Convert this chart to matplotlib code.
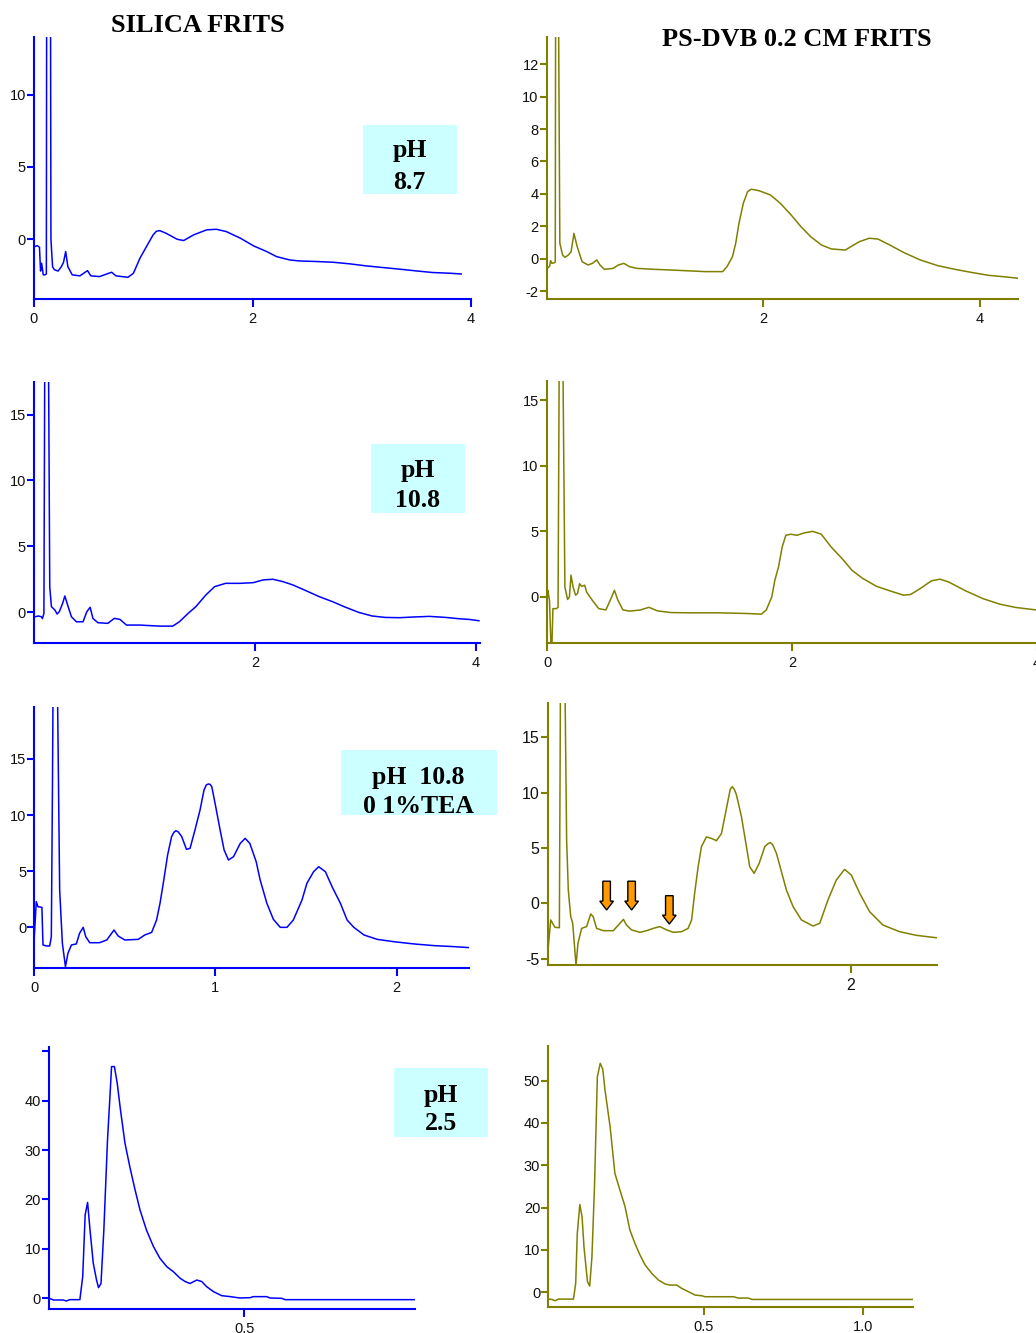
import matplotlib
matplotlib.use('Agg')
import matplotlib.pyplot as plt
from matplotlib.patches import Rectangle, FancyArrow

plt.rcParams['axes.unicode_minus'] = False

# ---- data (time, signal) ----
# silica frits, pH 8.7
t1 = [0.01, 0.03, 0.05, 0.06, 0.07, 0.085, 0.10, 0.113, 0.118, 0.148, 0.155, 0.17, 0.186,
      0.22, 0.25, 0.27, 0.29, 0.31, 0.35, 0.42, 0.49, 0.52, 0.60, 0.71, 0.75, 0.86, 0.91,
      0.97, 1.03, 1.09, 1.12, 1.15, 1.21, 1.31, 1.37, 1.46, 1.58, 1.67, 1.76, 1.89, 2.01, 2.13,
      2.22, 2.34, 2.43, 2.59, 2.74, 2.89, 3.04, 3.2, 3.35, 3.5, 3.65, 3.81, 3.91]
s1 = [-0.5, -0.44, -0.55, -2.2, -1.66, -2.46, -2.46, -2.4, 30, 30, 0.0, -1.9, -2.1,
      -2.2, -1.9, -1.6, -0.85, -1.9, -2.46, -2.53, -2.17, -2.53, -2.58, -2.28, -2.53, -2.63, -2.35,
      -1.31, -0.5, 0.3, 0.55, 0.6, 0.41, 0.0, -0.09, 0.3, 0.65, 0.69, 0.53, 0.07, -0.46, -0.85,
      -1.2, -1.43, -1.5, -1.54, -1.59, -1.7, -1.84, -1.96, -2.07, -2.19, -2.3, -2.35, -2.4]

# PS-DVB frits, pH 8.7
t2 = [0.01, 0.035, 0.045, 0.057, 0.08, 0.088, 0.092, 0.114, 0.13, 0.155, 0.177, 0.21, 0.234,
      0.26, 0.29, 0.335, 0.39, 0.43, 0.47, 0.50, 0.54, 0.62, 0.67, 0.72, 0.77, 0.84, 1.0,
      1.15, 1.34, 1.47, 1.63, 1.67, 1.72, 1.75, 1.78, 1.82, 1.86, 1.89, 1.925, 1.97, 2.07, 2.16,
      2.26, 2.35, 2.44, 2.54, 2.63, 2.76, 2.81, 2.89, 2.98, 3.06, 3.17, 3.30, 3.45, 3.61,
      3.77, 3.93, 4.08, 4.24, 4.35]
s2 = [-0.6, -0.49, -0.12, -0.29, -0.25, -0.2, 20, 20, 0.95, 0.23, 0.08, 0.23, 0.43,
      1.56, 0.74, -0.19, -0.39, -0.29, -0.08, -0.39, -0.66, -0.6, -0.39, -0.29, -0.49, -0.6, -0.66,
      -0.7, -0.76, -0.8, -0.8, -0.49, 0.12, 0.95, 2.18, 3.42, 4.14, 4.28, 4.25, 4.18, 3.93, 3.42,
      2.7, 1.98, 1.36, 0.84, 0.6, 0.53, 0.74, 1.05, 1.26, 1.21, 0.84, 0.37, -0.08, -0.43,
      -0.66, -0.86, -1.03, -1.13, -1.21]

# silica frits, pH 10.8
t3 = [0.0, 0.03, 0.057, 0.066, 0.08, 0.09, 0.118, 0.133, 0.148, 0.18, 0.20, 0.22, 0.25,
      0.27, 0.30, 0.33, 0.375, 0.435, 0.47, 0.50, 0.525, 0.57, 0.66, 0.72, 0.77, 0.83, 0.95,
      1.13, 1.25, 1.31, 1.39, 1.46, 1.55, 1.63, 1.73, 1.86, 1.98, 2.07, 2.16, 2.25, 2.34,
      2.46, 2.58, 2.70, 2.82, 2.94, 3.06, 3.18, 3.31, 3.43, 3.58, 3.73, 3.85, 3.94, 4.03]
s3 = [-0.36, -0.3, -0.36, -0.5, -0.1, 25, 25, 1.93, 0.41, 0.15, -0.15, 0.03, 0.66,
      1.22, 0.41, -0.36, -0.74, -0.74, 0.03, 0.36, -0.48, -0.81, -0.86, -0.48, -0.56, -0.99, -0.99,
      -1.07, -1.07, -0.74, -0.1, 0.41, 1.29, 1.93, 2.18, 2.18, 2.23, 2.44, 2.49, 2.31, 2.06,
      1.62, 1.17, 0.79, 0.36, -0.03, -0.3, -0.41, -0.43, -0.38, -0.33, -0.41, -0.51, -0.56, -0.66]

# PS-DVB frits, pH 10.8
t4 = [0.0, 0.003, 0.017, 0.03, 0.036, 0.045, 0.073, 0.087, 0.1, 0.12, 0.143, 0.165, 0.18,
      0.193, 0.21, 0.23, 0.246, 0.263, 0.28, 0.305, 0.32, 0.366, 0.42, 0.478, 0.52, 0.548,
      0.576, 0.618, 0.674, 0.76, 0.83, 0.9, 1.01, 1.18, 1.40, 1.625, 1.75, 1.79, 1.835, 1.86,
      1.89, 1.92, 1.95, 1.99, 2.04, 2.10, 2.17, 2.24, 2.32, 2.41, 2.49, 2.58, 2.69, 2.80,
      2.91, 2.97, 3.05, 3.14, 3.21, 3.28, 3.42, 3.56, 3.70, 3.83, 3.97, 4.11]
s4 = [0.0, 0.5, -0.25, -4.0, -4.0, -0.9, -0.9, -0.8, 25, 25, 0.76, -0.2, 0.0,
      1.65, 0.76, 0.13, 0.25, 1.0, 0.8, 0.89, 0.38, -0.25, -0.9, -1.0, -0.13, 0.5,
      -0.25, -1.0, -1.09, -1.0, -0.8, -1.07, -1.2, -1.22, -1.22, -1.27, -1.32, -1.0, 0.0, 1.27,
      2.29, 3.81, 4.7, 4.78, 4.7, 4.88, 5.0, 4.78, 3.81, 2.92, 2.03, 1.4, 0.81, 0.46,
      0.13, 0.18, 0.64, 1.22, 1.35, 1.14, 0.46, -0.13, -0.56, -0.81, -0.97, -1.08]

# silica frits, pH 10.8 + 0.1% TEA
t5 = [0.0, 0.011, 0.02, 0.042, 0.048, 0.066, 0.085, 0.094, 0.10, 0.107, 0.122, 0.14, 0.155,
      0.172, 0.186, 0.205, 0.232, 0.25, 0.27, 0.284, 0.306, 0.36, 0.40, 0.44, 0.463, 0.5,
      0.574, 0.61, 0.648, 0.675, 0.694, 0.712, 0.736, 0.758, 0.77, 0.782, 0.795, 0.814, 0.84,
      0.86, 0.887, 0.915, 0.937, 0.95, 0.961, 0.97, 0.98, 0.998, 1.026, 1.048, 1.072, 1.1,
      1.137, 1.164, 1.19, 1.225, 1.247, 1.284, 1.32, 1.358, 1.395, 1.43, 1.478, 1.505, 1.542,
      1.57, 1.607, 1.644, 1.69, 1.727, 1.764, 1.82, 1.893, 1.985, 2.096, 2.207, 2.317, 2.404]
s5 = [-0.83, 2.29, 1.84, 1.78, -1.57, -1.66, -1.66, -0.83, 12.0, 30, 30, 3.33, -1.43,
      -3.5, -2.3, -1.57, -1.48, -0.53, 0.0, -0.83, -1.37, -1.37, -1.13, -0.24, -0.77, -1.13,
      -1.07, -0.68, -0.45, 0.65, 2.14, 3.92, 6.44, 8.08, 8.45, 8.61, 8.5, 8.08, 6.95,
      7.04, 8.67, 10.45, 12.24, 12.7, 12.77, 12.75, 12.53, 11.05, 8.67, 6.89, 6.0, 6.3,
      7.48, 7.93, 7.48, 5.85, 4.22, 2.14, 0.71, 0.0, 0.0, 0.65, 2.44, 3.92, 4.96,
      5.4, 4.96, 3.62, 2.14, 0.65, 0.0, -0.68, -1.07, -1.28, -1.48, -1.63, -1.72, -1.81]

# PS-DVB frits, pH 10.8 + 0.1% TEA
t6 = [0.004, 0.02, 0.048, 0.077, 0.086, 0.11, 0.125, 0.136, 0.152, 0.165, 0.187, 0.20,
      0.224, 0.257, 0.284, 0.30, 0.323, 0.367, 0.433, 0.477, 0.5, 0.52, 0.554, 0.609, 0.653,
      0.697, 0.74, 0.785, 0.83, 0.884, 0.927, 0.95, 0.97, 0.993, 1.015, 1.048, 1.08, 1.114,
      1.147, 1.18, 1.205, 1.218, 1.232, 1.246, 1.279, 1.312, 1.334, 1.363, 1.396, 1.433,
      1.455, 1.47, 1.485, 1.51, 1.543, 1.576, 1.62, 1.675, 1.752, 1.796, 1.85, 1.905, 1.96,
      2.004, 2.06, 2.125, 2.213, 2.323, 2.433, 2.543, 2.6]
s6 = [-3.9, -1.5, -2.17, -2.2, 25, 25, 5.7, 1.2, -1.2, -1.8, -5.6, -3.6,
      -2.26, -2.1, -0.96, -1.2, -2.26, -2.47, -2.47, -1.8, -1.45, -1.96, -2.4, -2.62, -2.47,
      -2.26, -2.1, -2.4, -2.62, -2.56, -2.26, -1.5, 0.9, 3.3, 5.12, 6.0, 5.87, 5.66,
      6.3, 8.58, 10.3, 10.54, 10.3, 9.8, 7.83, 5.12, 3.3, 2.71, 3.61, 5.12,
      5.4, 5.48, 5.3, 4.52, 2.86, 1.2, -0.3, -1.5, -2.05, -1.8, 0.3, 2.1, 3.07,
      2.56, 0.9, -0.75, -1.96, -2.56, -2.89, -3.07, -3.16]
arrow_x = [0.389, 0.554, 0.803]
arrow_top = [2.0, 2.0, 0.69]
arrow_tip = [-0.6, -0.6, -1.87]

# silica frits, pH 2.5
t7 = [0.02, 0.03, 0.054, 0.062, 0.07, 0.095, 0.102, 0.108, 0.114, 0.12, 0.128, 0.136, 0.141,
      0.147, 0.154, 0.163, 0.169, 0.173, 0.18, 0.187, 0.195, 0.206, 0.218, 0.231, 0.243,
      0.259, 0.276, 0.292, 0.309, 0.325, 0.342, 0.354, 0.366, 0.383, 0.395, 0.407, 0.424,
      0.444, 0.465, 0.489, 0.514, 0.522, 0.555, 0.563, 0.592, 0.6, 0.72, 0.92]
s7 = [0.0, -0.34, -0.34, -0.54, -0.27, -0.27, 4.4, 16.9, 19.4, 13.8, 7.1, 3.7, 2.16,
      3.0, 13.8, 32.0, 40.8, 46.9, 46.9, 43.5, 38.1, 31.4, 26.6, 21.9, 17.9,
      13.8, 10.5, 8.1, 6.4, 5.4, 4.05, 3.4, 3.0, 3.7, 3.4, 2.36, 1.35,
      0.54, 0.34, 0.07, 0.13, 0.34, 0.34, 0.07, 0.0, -0.27, -0.27, -0.27]

# PS-DVB frits, pH 2.5
t8 = [0.011, 0.022, 0.032, 0.043, 0.09, 0.097, 0.102, 0.11, 0.117, 0.123, 0.134, 0.141,
      0.148, 0.156, 0.165, 0.174, 0.182, 0.189, 0.205, 0.22, 0.236, 0.252, 0.267, 0.283,
      0.299, 0.315, 0.336, 0.357, 0.378, 0.393, 0.414, 0.43, 0.451, 0.472, 0.493, 0.503,
      0.592, 0.608, 0.639, 0.65, 1.157]
s8 = [-1.66, -1.74, -2.05, -1.66, -1.66, 2.05, 13.9, 20.7, 17.8, 10.7, 2.44, 1.42,
      8.36, 24.9, 50.9, 54.1, 52.7, 47.8, 39.1, 28.1, 24.1, 20.2, 14.7, 11.5,
      8.75, 6.4, 4.4, 2.84, 1.9, 1.66, 1.66, 0.87, 0.08, -0.71, -0.87, -1.1,
      -1.1, -1.42, -1.42, -1.74, -1.74]

W, H = 1036, 1333
BLUE = '#0000ff'
OLIVE = '#808000'
SERIF = 'Liberation Serif'
SANS = 'Liberation Sans'

fig = plt.figure(figsize=(W / 100, H / 100), dpi=100)


def panel(box, color, xlim, ylim, xticks, xlabels, yticks, ylabels, fs=10.5):
    left, top, right, bottom = box
    ax = fig.add_axes([left / W, 1 - bottom / H, (right - left) / W, (bottom - top) / H])
    ax.patch.set_visible(False)
    ax.set_xlim(xlim)
    ax.set_ylim(ylim)
    for s in ['top', 'right']:
        ax.spines[s].set_visible(False)
    for s in ['left', 'bottom']:
        ax.spines[s].set_color(color)
        ax.spines[s].set_linewidth(1.5)
    ax.set_xticks(xticks)
    ax.set_xticklabels(xlabels, fontfamily=SANS)
    ax.set_yticks(yticks)
    ax.set_yticklabels(ylabels, fontfamily=SANS)
    ax.tick_params(axis='y', direction='out', length=5, width=1.5, color=color,
                   pad=0.8, labelsize=fs, labelcolor='#111111')
    ax.tick_params(axis='x', direction='out', length=6, width=1.5, color=color,
                   pad=3.5, labelsize=fs, labelcolor='#111111')
    return ax


def label_box(box, lines, baselines, cx):
    left, top, right, bottom = box
    fig.patches.append(Rectangle((left / W, 1 - bottom / H), (right - left) / W, (bottom - top) / H,
                                 transform=fig.transFigure, fc='#ccffff', ec='none', zorder=0))
    for txt, yb in zip(lines, baselines):
        fig.text(cx / W, 1 - yb / H, txt, ha='center', va='baseline', fontsize=18.5,
                 fontweight='bold', family=SERIF)


# row 1
ax = panel((34, 37.3, 471, 299), BLUE, (0, 4.0), (-4.13, 13.96),
           [0, 2, 4], ['0', '2', '4'], [0, 5, 10], ['0', '5', '10'])
ax.plot(t1, s1, color=BLUE, lw=1.1)
ax = panel((546.8, 37.3, 1018, 299), OLIVE, (0.01, 4.35), (-2.49, 13.66),
           [2, 4], ['2', '4'], [-2, 0, 2, 4, 6, 8, 10, 12],
           ['-2', '0', '2', '4', '6', '8', '10', '12'])
ax.plot(t2, s2, color=OLIVE, lw=1.1)

# row 2
ax = panel((34, 381.7, 480, 642.7), BLUE, (-0.01, 4.04), (-2.33, 17.5),
           [2, 4], ['2', '4'], [0, 5, 10, 15], ['0', '5', '10', '15'])
ax.plot(t3, s3, color=BLUE, lw=1.1)
ax = panel((546.8, 380.7, 1050, 642.7), OLIVE, (-0.005, 4.11), (-3.5, 16.5),
           [0, 2, 4], ['0', '2', '4'], [0, 5, 10, 15], ['0', '5', '10', '15'])
ax.plot(t4, s4, color=OLIVE, lw=1.1)

# row 3
ax = panel((34.3, 706.7, 469, 968.3), BLUE, (0, 2.40), (-3.65, 19.66),
           [0, 1, 2], ['0', '1', '2'], [0, 5, 10, 15], ['0', '5', '10', '15'])
ax.plot(t5, s5, color=BLUE, lw=1.1)
ax = panel((547.7, 703.3, 937, 965), OLIVE, (0, 2.57), (-5.57, 18.07),
           [2], ['2'], [-5, 0, 5, 10, 15], ['-5', '0', '5', '10', '15'], fs=11.5)
ax.plot(t6, s6, color=OLIVE, lw=1.1)
for xa, ya, yt in zip(arrow_x, arrow_top, arrow_tip):
    ax.add_patch(FancyArrow(xa, ya, 0, yt - ya, width=0.05, head_width=0.09, head_length=0.8,
                            length_includes_head=True, fc='#ff9900', ec='black', lw=1.0,
                            zorder=5))

# row 4
ax = panel((49, 1047.3, 415, 1308.7), BLUE, (0.019, 0.92), (-2.1, 50.8),
           [0.5], ['0.5'], [0, 10, 20, 30, 40, 50], ['0', '10', '20', '30', '40', ''])
ax.plot(t7, s7, color=BLUE, lw=1.1)
ax = panel((548.3, 1046, 912.7, 1307.3), OLIVE, (0.011, 1.155), (-3.6, 58.2),
           [0.5, 1.0], ['0.5', '1.0'], [0, 10, 20, 30, 40, 50],
           ['0', '10', '20', '30', '40', '50'])
ax.plot(t8, s8, color=OLIVE, lw=1.1)

# titles
fig.text(198 / W, 1 - 32.3 / H, 'SILICA FRITS', ha='center', va='baseline', fontsize=19,
         fontweight='bold', family=SERIF)
fig.text(797 / W, 1 - 45.7 / H, 'PS-DVB 0.2 CM FRITS', ha='center', va='baseline', fontsize=19,
         fontweight='bold', family=SERIF)

# condition boxes
label_box((363, 125, 457, 194), ['pH', '8.7'], [156.7, 189], 409.5)
label_box((371, 444, 465, 513), ['pH', '10.8'], [476.7, 507.3], 418)
label_box((340.7, 750, 496.7, 815), ['pH  10.8', '0 1%TEA'], [784, 813.3], 418.5)
label_box((394, 1068, 487.7, 1136.7), ['pH', '2.5'], [1101.7, 1130], 440.5)

fig.savefig('out.png', dpi=100)
